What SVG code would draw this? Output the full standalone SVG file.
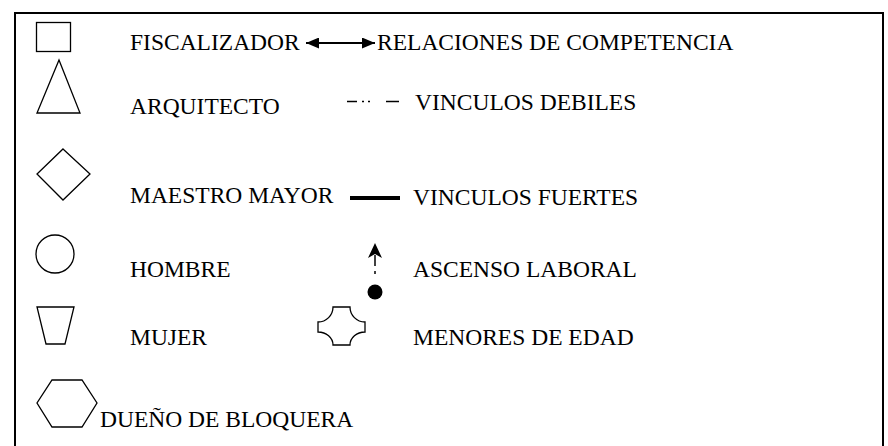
<svg xmlns="http://www.w3.org/2000/svg" width="888" height="446" viewBox="0 0 888 446">
<style>
text{font-family:"Liberation Serif","Times New Roman",serif;font-size:23.5px;fill:#000}
.sh{fill:#fff;stroke:#000;stroke-width:1.3}
</style>
<defs>
<marker id="ah" markerWidth="13" markerHeight="11" refX="13" refY="5.5" orient="auto-start-reverse" markerUnits="userSpaceOnUse">
<path d="M0,0 L13,5.5 L0,11 Z" fill="#000"/>
</marker>
</defs>
<rect x="15" y="13" width="868" height="445" fill="#fff" stroke="#000" stroke-width="2"/>
<g id="fiscalizador"><rect class="sh" x="36.5" y="22.5" width="34" height="29"/><text x="130" y="50">FISCALIZADOR</text></g>
<g id="arquitecto"><path class="sh" d="M59,60 L80,113 L37,113 Z"/><text x="130" y="114">ARQUITECTO</text></g>
<g id="maestro"><path class="sh" d="M63,149 L90,174 L63,200 L37,174 Z"/><text x="130" y="203">MAESTRO MAYOR</text></g>
<g id="hombre"><circle class="sh" cx="55" cy="254" r="19"/><text x="130" y="277">HOMBRE</text></g>
<g id="mujer"><path class="sh" d="M37,307 L74,307 L65,344 L46,344 Z"/><text x="130" y="345">MUJER</text></g>
<g id="dueno"><path class="sh" d="M52,380 L82,380 L97,403 L82,427 L52,427 L37,403 Z"/><text x="100" y="427">DUEÑO DE BLOQUERA</text></g>
<g id="connectors">
<line x1="306" y1="43" x2="375" y2="43" stroke="#000" stroke-width="2" marker-start="url(#ah)" marker-end="url(#ah)"/>
<line x1="347" y1="101.5" x2="357" y2="101.5" stroke="#000" stroke-width="1.5"/>
<line x1="362" y1="101.5" x2="364" y2="101.5" stroke="#000" stroke-width="1.5"/>
<line x1="368" y1="101.5" x2="370" y2="101.5" stroke="#000" stroke-width="1.5"/>
<line x1="386" y1="101.5" x2="399" y2="101.5" stroke="#000" stroke-width="1.5"/>
<line x1="350" y1="198" x2="400" y2="198" stroke="#000" stroke-width="4"/>
<line x1="375" y1="255" x2="375" y2="266" stroke="#000" stroke-width="1.5"/>
<path d="M375,243 L382,258 L375,254 L368,258 Z" fill="#000"/>
<line x1="375" y1="271" x2="375" y2="274" stroke="#000" stroke-width="1.5"/>
<circle cx="375" cy="292" r="7.5" fill="#000"/>
</g>
<g id="labels">
<text x="377" y="50">RELACIONES DE COMPETENCIA</text>
<text x="415" y="110">VINCULOS DEBILES</text>
<text x="413" y="205">VINCULOS FUERTES</text>
<text x="413" y="277">ASCENSO LABORAL</text>
</g>
<g id="menores"><path class="sh" d="M333,307 L350,307 A15,15 0 0 0 365,322 L365,332 A15,13 0 0 0 350,345 L333,345 A15,13 0 0 0 318,332 L318,322 A15,15 0 0 0 333,307 Z"/><text x="413" y="345">MENORES DE EDAD</text></g>
</svg>
